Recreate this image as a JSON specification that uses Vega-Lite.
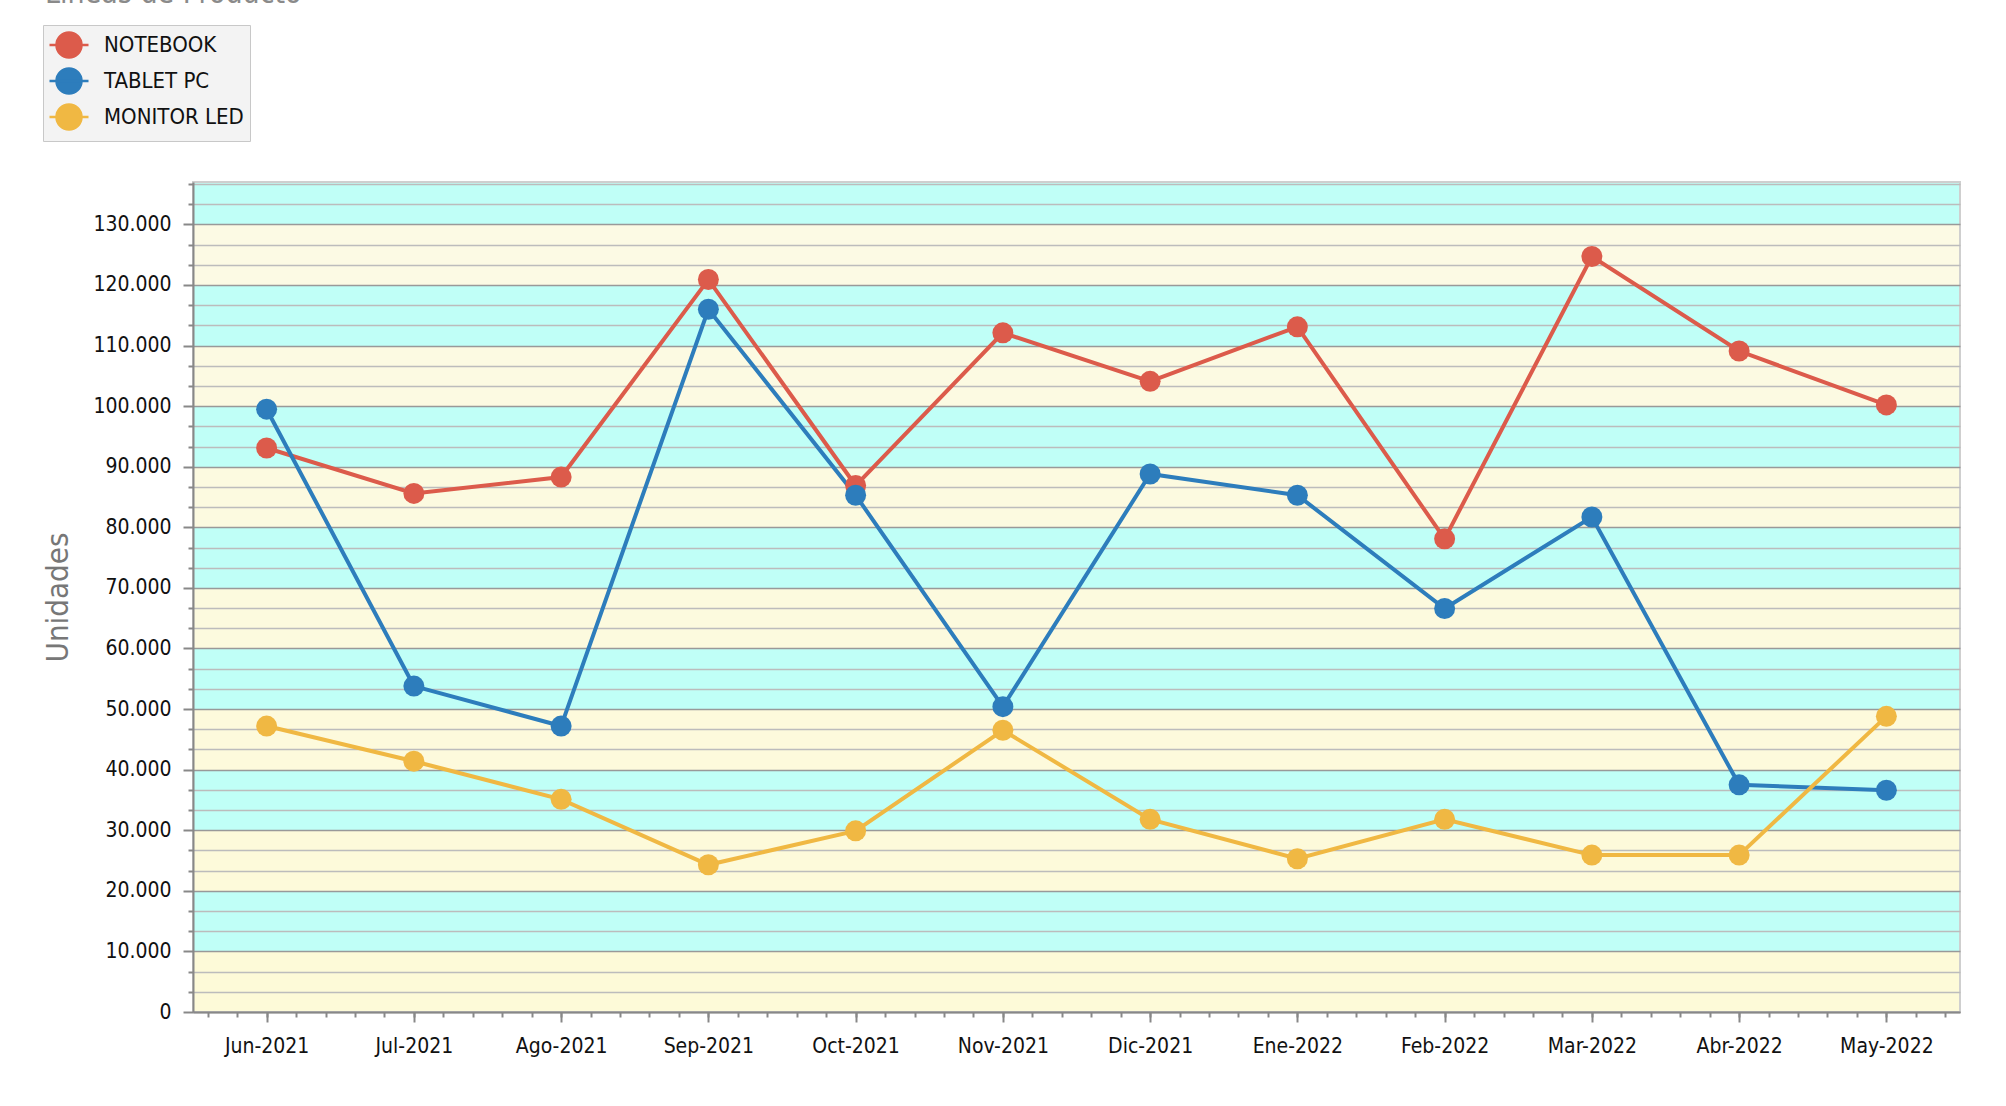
{
  "$schema": "https://vega.github.io/schema/vega-lite/v6.json",
  "width": 1767,
  "height": 830,
  "autosize": {"type": "none"},
  "padding": {"left": 193, "top": 182, "right": 46, "bottom": 94},
  "background": "white",
  "title": {"text": "Lineas de Producto", "anchor": "start", "frame": "group", "dx": -148, "offset": 16, "fontSize": 30, "font": "DejaVu Sans Condensed, DejaVu Sans", "fontWeight": "normal", "color": "#8a8a8a"},
  "view": {
    "stroke": "#cfcfcf",
    "strokeWidth": 2,
    "fill": {
      "gradient": "linear", "x1": 0, "y1": 0, "x2": 0, "y2": 1,
      "stops": [
        {"offset": 0, "color": "#c0fff7"}, {"offset": 0.051095, "color": "#c0fff7"},
        {"offset": 0.051095, "color": "#fcfae4"}, {"offset": 0.124088, "color": "#fcfae4"},
        {"offset": 0.124088, "color": "#c0fff7"}, {"offset": 0.19708, "color": "#c0fff7"},
        {"offset": 0.19708, "color": "#fcfae2"}, {"offset": 0.270073, "color": "#fcfae2"},
        {"offset": 0.270073, "color": "#c0fff7"}, {"offset": 0.343066, "color": "#c0fff7"},
        {"offset": 0.343066, "color": "#fcfae0"}, {"offset": 0.416058, "color": "#fcfae0"},
        {"offset": 0.416058, "color": "#c0fff7"}, {"offset": 0.489051, "color": "#c0fff7"},
        {"offset": 0.489051, "color": "#fcfade"}, {"offset": 0.562044, "color": "#fcfade"},
        {"offset": 0.562044, "color": "#c0fff7"}, {"offset": 0.635036, "color": "#c0fff7"},
        {"offset": 0.635036, "color": "#fdfadc"}, {"offset": 0.708029, "color": "#fdfadc"},
        {"offset": 0.708029, "color": "#c0fff7"}, {"offset": 0.781022, "color": "#c0fff7"},
        {"offset": 0.781022, "color": "#fdfada"}, {"offset": 0.854015, "color": "#fdfada"},
        {"offset": 0.854015, "color": "#c0fff7"}, {"offset": 0.927007, "color": "#c0fff7"},
        {"offset": 0.927007, "color": "#fdfad8"}, {"offset": 1, "color": "#fdfad8"}
      ]
    }
  },
  "layer": [
    {
      "data": {"values": [
        {"Mes": "Jun-2021", "Linea": "NOTEBOOK", "Unidades": 93100},
        {"Mes": "Jun-2021", "Linea": "TABLET PC", "Unidades": 99500},
        {"Mes": "Jun-2021", "Linea": "MONITOR LED", "Unidades": 47200},
        {"Mes": "Jul-2021", "Linea": "NOTEBOOK", "Unidades": 85600},
        {"Mes": "Jul-2021", "Linea": "TABLET PC", "Unidades": 53800},
        {"Mes": "Jul-2021", "Linea": "MONITOR LED", "Unidades": 41400},
        {"Mes": "Ago-2021", "Linea": "NOTEBOOK", "Unidades": 88300},
        {"Mes": "Ago-2021", "Linea": "TABLET PC", "Unidades": 47200},
        {"Mes": "Ago-2021", "Linea": "MONITOR LED", "Unidades": 35100},
        {"Mes": "Sep-2021", "Linea": "NOTEBOOK", "Unidades": 120900},
        {"Mes": "Sep-2021", "Linea": "TABLET PC", "Unidades": 116000},
        {"Mes": "Sep-2021", "Linea": "MONITOR LED", "Unidades": 24300},
        {"Mes": "Oct-2021", "Linea": "NOTEBOOK", "Unidades": 86900},
        {"Mes": "Oct-2021", "Linea": "TABLET PC", "Unidades": 85300},
        {"Mes": "Oct-2021", "Linea": "MONITOR LED", "Unidades": 29900},
        {"Mes": "Nov-2021", "Linea": "NOTEBOOK", "Unidades": 112100},
        {"Mes": "Nov-2021", "Linea": "TABLET PC", "Unidades": 50400},
        {"Mes": "Nov-2021", "Linea": "MONITOR LED", "Unidades": 46500},
        {"Mes": "Dic-2021", "Linea": "NOTEBOOK", "Unidades": 104100},
        {"Mes": "Dic-2021", "Linea": "TABLET PC", "Unidades": 88800},
        {"Mes": "Dic-2021", "Linea": "MONITOR LED", "Unidades": 31800},
        {"Mes": "Ene-2022", "Linea": "NOTEBOOK", "Unidades": 113100},
        {"Mes": "Ene-2022", "Linea": "TABLET PC", "Unidades": 85300},
        {"Mes": "Ene-2022", "Linea": "MONITOR LED", "Unidades": 25300},
        {"Mes": "Feb-2022", "Linea": "NOTEBOOK", "Unidades": 78100},
        {"Mes": "Feb-2022", "Linea": "TABLET PC", "Unidades": 66600},
        {"Mes": "Feb-2022", "Linea": "MONITOR LED", "Unidades": 31800},
        {"Mes": "Mar-2022", "Linea": "NOTEBOOK", "Unidades": 124700},
        {"Mes": "Mar-2022", "Linea": "TABLET PC", "Unidades": 81700},
        {"Mes": "Mar-2022", "Linea": "MONITOR LED", "Unidades": 25900},
        {"Mes": "Abr-2022", "Linea": "NOTEBOOK", "Unidades": 109100},
        {"Mes": "Abr-2022", "Linea": "TABLET PC", "Unidades": 37500},
        {"Mes": "Abr-2022", "Linea": "MONITOR LED", "Unidades": 25900},
        {"Mes": "May-2022", "Linea": "NOTEBOOK", "Unidades": 100200},
        {"Mes": "May-2022", "Linea": "TABLET PC", "Unidades": 36600},
        {"Mes": "May-2022", "Linea": "MONITOR LED", "Unidades": 48800}
      ]},
      "encoding": {
        "x": {
          "field": "Mes", "type": "nominal", "sort": null,
          "scale": {"type": "point", "padding": 0.5},
          "axis": {"orient": "bottom", "title": null, "labelAngle": 0, "labelFont": "DejaVu Sans Condensed, DejaVu Sans", "labelFontSize": 21, "labelColor": "#111111", "labelPadding": 13, "tickSize": 10, "tickWidth": 2, "tickColor": "#888888", "domainColor": "#888888", "domainWidth": 2, "grid": false}
        },
        "y": {
          "field": "Unidades", "type": "quantitative",
          "scale": {"domain": [0, 137000], "nice": false, "zero": true},
          "axis": {
            "values": [0, 3333.333, 6666.667, 10000, 13333.333, 16666.667, 20000, 23333.333, 26666.667, 30000, 33333.333, 36666.667, 40000, 43333.333, 46666.667, 50000, 53333.333, 56666.667, 60000, 63333.333, 66666.667, 70000, 73333.333, 76666.667, 80000, 83333.333, 86666.667, 90000, 93333.333, 96666.667, 100000, 103333.333, 106666.667, 110000, 113333.333, 116666.667, 120000, 123333.333, 126666.667, 130000, 133333.333, 136666.667],
            "title": "Unidades", "titleFont": "DejaVu Sans Condensed, DejaVu Sans", "titleFontSize": 31, "titleFontWeight": "normal", "titleColor": "#777777", "titlePadding": 18,
            "labelExpr": "datum.value % 10000 === 0 ? replace(format(datum.value, ','), ',', '.') : ''",
            "labelFont": "DejaVu Sans Condensed, DejaVu Sans", "labelFontSize": 21, "labelColor": "#111111", "labelPadding": 12, "labelOverlap": false,
            "tickSize": {"condition": {"test": "datum.value % 10000 === 0", "value": 10}, "value": 5},
            "tickWidth": 2, "tickColor": "#888888", "domainColor": "#888888", "domainWidth": 2,
            "grid": true, "gridWidth": 1.5, "gridOpacity": 1,
            "gridColor": {"condition": {"test": "datum.value % 10000 === 0", "value": "#999999"}, "value": "#bcbcbc"}
          }
        },
        "color": {
          "field": "Linea", "type": "nominal",
          "scale": {"domain": ["NOTEBOOK", "TABLET PC", "MONITOR LED"], "range": ["#DC5B4B", "#2D7DBC", "#F0B843"]},
          "legend": {
            "title": null, "orient": "none", "legendX": -150, "legendY": -157,
            "fillColor": "#f3f3f3", "strokeColor": "#c8c8c8", "padding": 6,
            "labelFont": "DejaVu Sans Condensed, DejaVu Sans", "labelFontSize": 22, "labelColor": "#111111", "labelOffset": 21,
            "symbolOffset": 6,
            "symbolType": "M-1.56,0L1.56,0M1,0A1,1 0 1,1 -1,0A1,1 0 1,1 1,0Z",
            "symbolSize": 625, "rowPadding": 0,
            "encode": {"symbols": {"update": {"fill": {"scale": "color", "field": "value"}, "stroke": {"scale": "color", "field": "value"}, "strokeWidth": {"value": 2.5}, "opacity": {"value": 1}}}}
          }
        }
      },
      "layer": [
        {"mark": {"type": "line", "strokeWidth": 4}},
        {"mark": {"type": "point", "filled": true, "size": 440, "opacity": 1, "strokeWidth": 1}}
      ]
    },
    {
      "data": {"values": [{}]},
      "mark": {"type": "rule", "opacity": 0},
      "encoding": {
        "x": {
          "datum": 0, "type": "quantitative",
          "scale": {"domain": [-0.5, 11.5], "nice": false, "zero": false},
          "axis": {"orient": "bottom", "tickCount": 60, "labels": false, "domain": false, "grid": false, "ticks": true, "tickSize": 5, "tickWidth": 2, "tickColor": "#888888", "title": null}
        }
      }
    }
  ],
  "resolve": {"scale": {"x": "independent"}, "axis": {"x": "independent"}}
}
